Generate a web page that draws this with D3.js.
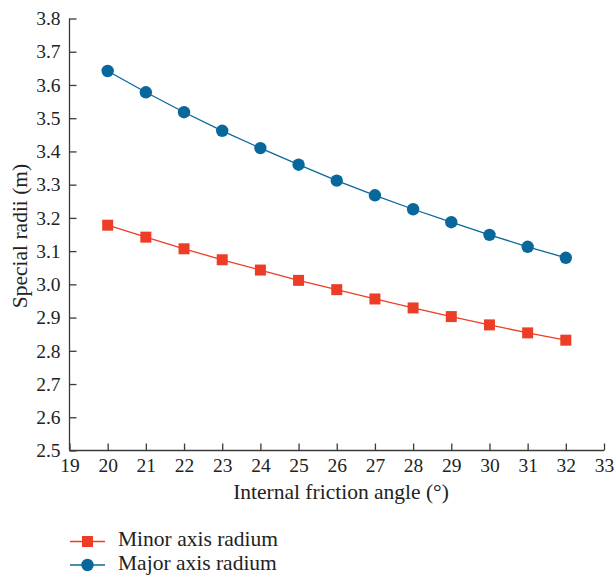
<!DOCTYPE html>
<html>
<head>
<meta charset="utf-8">
<script src="https://cdn.jsdelivr.net/npm/d3@7"></script>
<style>
  html, body { margin: 0; padding: 0; background: #fff; }
  svg { display: block; }
</style>
</head>
<body>
<div id="chart"></div>
<script>
  // Data
  const angles = [20, 21, 22, 23, 24, 25, 26, 27, 28, 29, 30, 31, 32];
  const minorRadius = [3.178, 3.142, 3.107, 3.074, 3.043, 3.012, 2.984, 2.956, 2.929, 2.903, 2.878, 2.854, 2.832];
  const majorRadius = [3.642, 3.578, 3.518, 3.462, 3.410, 3.360, 3.312, 3.268, 3.226, 3.187, 3.149, 3.113, 3.080];
  const xTicks = d3.range(19, 34, 1);
  const yTicks = d3.range(25, 39, 1).map(d => d / 10);

  const W = 615, H = 578;
  const FONT = "Liberation Serif, Times New Roman, serif";
  const AXIS = "#3a3a3a";
  const RED = "#ee3d27";
  const BLUE = "#09689b";

  const svg = d3.select("#chart").append("svg").attr("width", W).attr("height", H);

  const x = d3.scaleLinear().domain([19, 33]).range([69.5, 604]);
  const y = d3.scaleLinear().domain([2.5, 3.8]).range([450.5, 18.5]);

  // Axes: ticks pointing inward
  const xAxis = svg.append("g").attr("transform", `translate(0,${y(2.5)})`)
    .call(d3.axisBottom(x).tickValues(xTicks).tickSize(-7).tickPadding(11).tickFormat(d3.format("d")));
  const yAxis = svg.append("g").attr("transform", `translate(${x(19)},0)`)
    .call(d3.axisLeft(y).tickValues(yTicks).tickSize(-7).tickPadding(9).tickFormat(d3.format(".1f")));

  [xAxis, yAxis].forEach(g => {
    g.attr("font-family", null).attr("font-size", null);
    g.select(".domain").attr("stroke", AXIS).attr("stroke-width", 1.3);
    g.selectAll(".tick line").attr("stroke", AXIS).attr("stroke-width", 1.3);
    g.selectAll(".tick text").attr("fill", "#222").style("font-size", "19.5px").style("font-family", FONT);
  });
  xAxis.select(".domain").attr("d", `M${x(19)},0H${x(33)}`);
  yAxis.select(".domain").attr("d", `M0,${y(2.5)}V${y(3.8)}`);
  xAxis.selectAll(".tick text").attr("dy", "0.55em");

  // Axis titles
  svg.append("text").attr("x", 341).attr("y", 499).attr("text-anchor", "middle")
    .style("font-family", FONT).style("font-size", "21.5px").attr("fill", "#222")
    .text("Internal friction angle (°)");
  svg.append("text").attr("transform", "translate(27,236) rotate(-90)").attr("text-anchor", "middle")
    .style("font-family", FONT).style("font-size", "21.5px").attr("fill", "#222")
    .text("Special radii (m)");

  const line = d3.line().x(d => x(d[0])).y(d => y(d[1]));
  const minorPts = angles.map((a, i) => [a, minorRadius[i]]);
  const majorPts = angles.map((a, i) => [a, majorRadius[i]]);

  // Minor axis series (squares)
  svg.append("path").datum(minorPts).attr("d", line)
    .attr("fill", "none").attr("stroke", RED).attr("stroke-width", 1.3);
  svg.selectAll(".sq").data(minorPts).enter().append("rect")
    .attr("x", d => x(d[0]) - 5.5).attr("y", d => y(d[1]) - 5.5)
    .attr("width", 11).attr("height", 11).attr("fill", RED);

  // Major axis series (circles)
  svg.append("path").datum(majorPts).attr("d", line)
    .attr("fill", "none").attr("stroke", BLUE).attr("stroke-width", 1.3);
  svg.selectAll(".ci").data(majorPts).enter().append("circle")
    .attr("cx", d => x(d[0])).attr("cy", d => y(d[1])).attr("r", 6.2).attr("fill", BLUE);

  // Legend
  const legend = [
    { label: "Minor axis radium", color: RED, shape: "square", yy: 541.5 },
    { label: "Major axis radium", color: BLUE, shape: "circle", yy: 565 }
  ];
  legend.forEach(l => {
    const g = svg.append("g");
    g.append("line").attr("x1", 70).attr("x2", 105).attr("y1", l.yy).attr("y2", l.yy)
      .attr("stroke", l.color).attr("stroke-width", 1.3);
    if (l.shape === "square") {
      g.append("rect").attr("x", 87.5 - 5.5).attr("y", l.yy - 5.5).attr("width", 11).attr("height", 11).attr("fill", l.color);
    } else {
      g.append("circle").attr("cx", 87.5).attr("cy", l.yy).attr("r", 6.2).attr("fill", l.color);
    }
    g.append("text").attr("x", 118).attr("y", l.yy + 4.5)
      .style("font-family", FONT).style("font-size", "21.5px").attr("fill", "#222").text(l.label);
  });
</script>
</body>
</html>
